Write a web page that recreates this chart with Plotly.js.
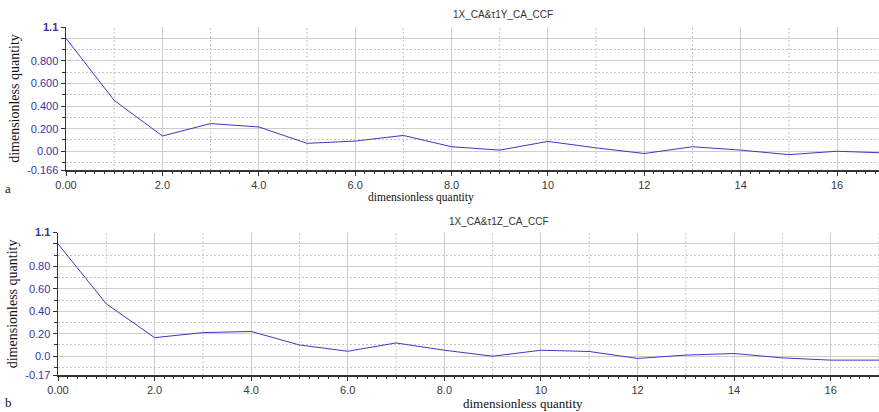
<!DOCTYPE html>
<html>
<head>
<meta charset="utf-8">
<script src="https://cdn.plot.ly/plotly-3.0.1.min.js"></script>
<style>html,body{margin:0;padding:0;background:#fff;}#chart{width:879px;height:412px;}</style>
</head>
<body>
<div id="chart"></div>
<script>
// ---- data ----
const lagA = [0,1,2,3,4,5,6,7,8,9,10,11,12,13,14,15,16,17];
const ccfA = [1.0,0.45,0.135,0.245,0.215,0.07,0.09,0.14,0.04,0.01,0.087,0.03,-0.02,0.04,0.01,-0.03,0.0,-0.015];
const lagB = [0,1,2,3,4,5,6,7,8,9,10,11,12,13,14,15,16,17];
const ccfB = [1.0,0.466,0.165,0.21,0.22,0.10,0.044,0.118,0.053,0.0,0.053,0.042,-0.02,0.01,0.024,-0.015,-0.035,-0.035];

const titleA = '1X_CA&\u03c41Y_CA_CCF';
const titleB = '1X_CA&\u03c41Z_CA_CCF';
const xLabel = 'dimensionless quantity';
const yLabel = 'dimensionless quantity';

const xTickVals = [0,2,4,6,8,10,12,14,16];
const xTickText = ['0.00','2.0','4.0','6.0','8.0','10','12','14','16'];
const xDashedGrid = [1,3,5,7,9,11,13,15,17];
const yTickValsA = [-0.166,0,0.2,0.4,0.6,0.8,1.0,1.1];
const yTickTextA = ['-0.166','0.00','0.200','0.400','0.600','0.800','','<b>1.1</b>'];
const yTickValsB = [-0.17,0,0.2,0.4,0.6,0.8,1.0,1.1];
const yTickTextB = ['-0.17','0.0','0.20','0.40','0.60','0.80','','<b>1.1</b>'];

// ---- styles ----
const sans = 'Liberation Sans, Arial, sans-serif';
const serif = 'Liberation Serif, Times New Roman, serif';
const gridC = '#cdcdcd';
const dashC = '#c4c4c4';
const lineC = '#3a3ac0';

function xAxis(domain, range, anchor) {
  return {
    domain: domain, range: range, anchor: anchor,
    tickmode: 'array', tickvals: xTickVals, ticktext: xTickText,
    ticks: 'outside', ticklen: 4, tickcolor: '#333', tickwidth: 1,
    showgrid: true, gridcolor: gridC, gridwidth: 1,
    showline: true, linecolor: '#333', linewidth: 1.5,
    zeroline: false,
    tickfont: {family: sans, size: 11, color: '#3a3a3a'},
    minor: {tickmode: 'linear', tick0: 0, dtick: 0.2, ticks: 'outside', ticklen: 2,
            tickcolor: '#333', showgrid: false},
    fixedrange: true
  };
}
function yAxis(domain, range, anchor, vals, text) {
  return {
    domain: domain, range: range, anchor: anchor,
    tickmode: 'array', tickvals: vals, ticktext: text,
    ticks: 'outside', ticklen: 4, tickcolor: '#333', tickwidth: 1,
    showgrid: true, gridcolor: gridC, gridwidth: 1,
    showline: true, linecolor: '#333', linewidth: 1.5,
    zeroline: false,
    tickfont: {family: sans, size: 11, color: '#3636a8'},
    minor: {tickmode: 'linear', tick0: 0.1, dtick: 0.2, ticks: 'outside', ticklen: 3,
            tickcolor: '#333', showgrid: true, gridcolor: dashC, griddash: '2px,2px', gridwidth: 1},
    title: {text: yLabel, font: {family: serif, size: 14, color: '#111'}, standoff: 4},
    fixedrange: true
  };
}

const W = 879, H = 412;
const domXA = [66/W, 1], domYA = [(H-170)/H, (H-27)/H];
const domXB = [58/W, 1], domYB = [(H-375.3)/H, (H-232.6)/H];

const traces = [
  {x: lagA, y: ccfA, type: 'scatter', mode: 'lines', xaxis: 'x', yaxis: 'y',
   line: {color: lineC, width: 1}, hoverinfo: 'none'},
  {x: lagB, y: ccfB, type: 'scatter', mode: 'lines', xaxis: 'x2', yaxis: 'y2',
   line: {color: lineC, width: 1}, hoverinfo: 'none'}
];

// dashed vertical grid lines at odd lags (axis-referenced, below the data)
const shapes = [];
[['x', 'y domain'], ['x2', 'y2 domain']].forEach(function (ref) {
  xDashedGrid.forEach(function (v) {
    shapes.push({type: 'line', layer: 'below', xref: ref[0], yref: ref[1],
      x0: v, x1: v, y0: 0, y1: 1,
      line: {color: dashC, width: 1, dash: '2px,2px'}});
  });
});

const layout = {
  width: W, height: H,
  margin: {l: 0, r: 0, t: 0, b: 0},
  paper_bgcolor: '#fff', plot_bgcolor: '#fff',
  showlegend: false,
  xaxis: xAxis(domXA, [0, 16.87], 'y'),
  yaxis: yAxis(domYA, [-0.166, 1.1], 'x', yTickValsA, yTickTextA),
  xaxis2: xAxis(domXB, [0, 17.0], 'y2'),
  yaxis2: yAxis(domYB, [-0.17, 1.1], 'x2', yTickValsB, yTickTextB),
  shapes: shapes,
  annotations: [
    {text: titleA, xref: 'paper', yref: 'paper', x: 503/W, y: (H-15)/H, showarrow: false,
     xanchor: 'center', yanchor: 'middle', font: {family: sans, size: 10, color: '#333'}},
    {text: titleB, xref: 'paper', yref: 'paper', x: 499/W, y: (H-221)/H, showarrow: false,
     xanchor: 'center', yanchor: 'middle', font: {family: sans, size: 10, color: '#333'}},
    {text: xLabel, xref: 'paper', yref: 'paper', x: 421/W, y: (H-197)/H, showarrow: false,
     xanchor: 'center', yanchor: 'middle', font: {family: serif, size: 11.5, color: '#111'}},
    {text: xLabel, xref: 'paper', yref: 'paper', x: 523/W, y: (H-403)/H, showarrow: false,
     xanchor: 'center', yanchor: 'middle', font: {family: serif, size: 13, color: '#111'}},
    {text: 'a', xref: 'paper', yref: 'paper', x: 8/W, y: (H-188)/H, showarrow: false,
     xanchor: 'center', yanchor: 'middle', font: {family: serif, size: 13, color: '#111'}},
    {text: 'b', xref: 'paper', yref: 'paper', x: 8/W, y: (H-402)/H, showarrow: false,
     xanchor: 'center', yanchor: 'middle', font: {family: serif, size: 13, color: '#111'}}
  ]
};

Plotly.newPlot('chart', traces, layout, {staticPlot: true, displayModeBar: false});
</script>
</body>
</html>
